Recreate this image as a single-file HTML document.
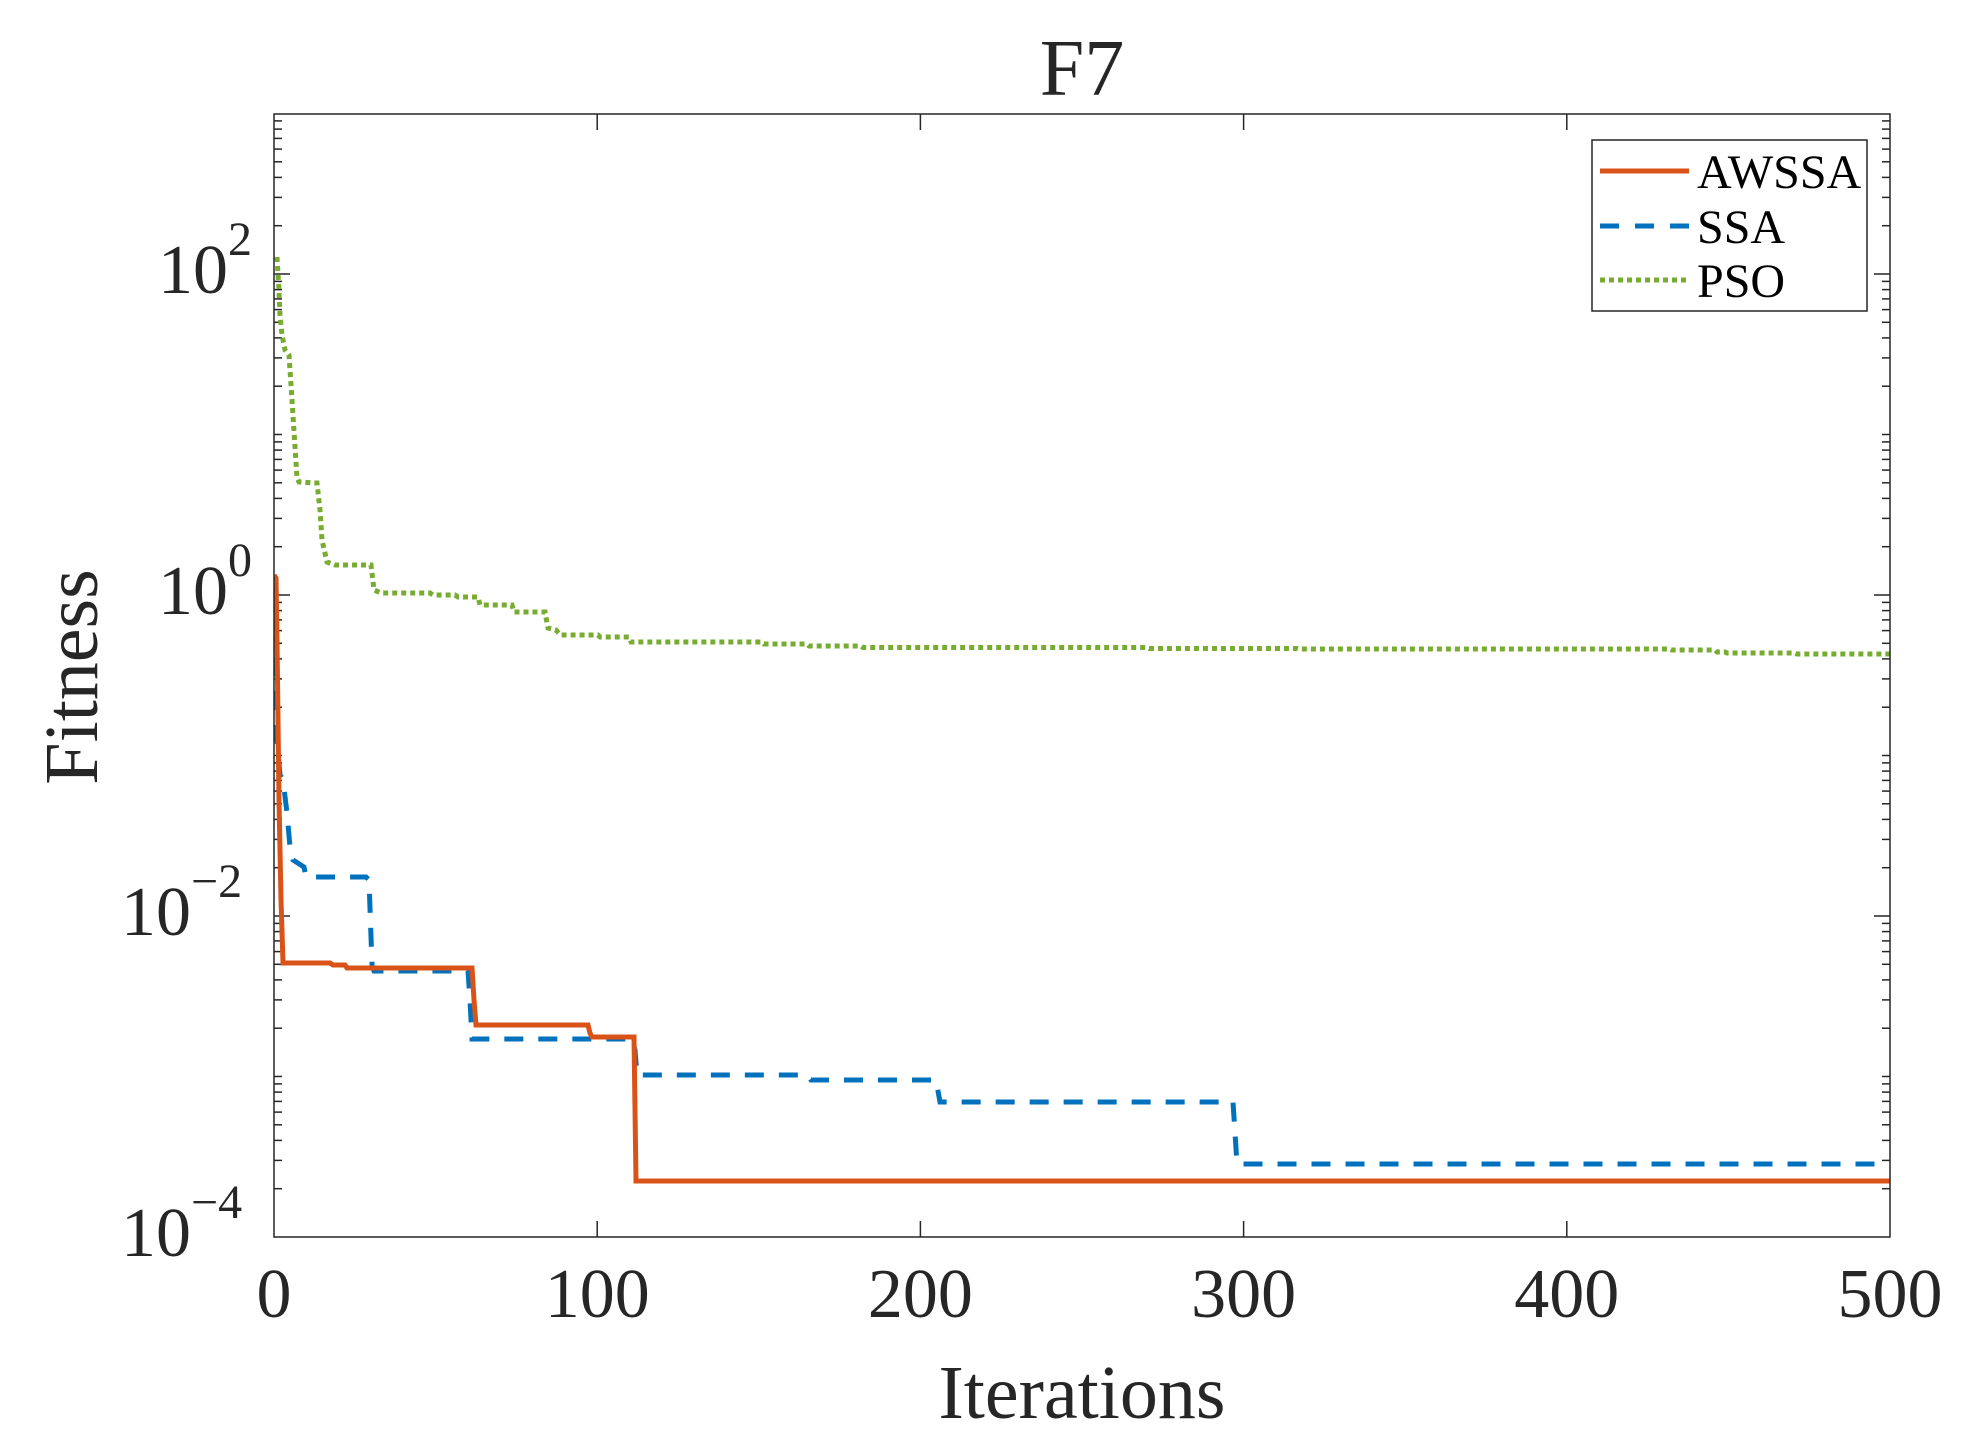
<!DOCTYPE html>
<html><head><meta charset="utf-8"><style>
html,body{margin:0;padding:0;background:#fff;}
svg{display:block;}
text{font-family:"Liberation Serif",serif;fill:#262626;}
</style></head><body>
<svg width="1964" height="1445" viewBox="0 0 1964 1445" xmlns="http://www.w3.org/2000/svg">
<defs>
<clipPath id="c"><rect x="274" y="114" width="1616" height="1123"/></clipPath>
<g id="mL" stroke="#262626" stroke-width="1.5">
<line x1="274" x2="282" y1="-48.3" y2="-48.3"/><line x1="274" x2="282" y1="-76.6" y2="-76.6"/>
<line x1="274" x2="282" y1="-96.6" y2="-96.6"/><line x1="274" x2="282" y1="-112.2" y2="-112.2"/>
<line x1="274" x2="282" y1="-124.9" y2="-124.9"/><line x1="274" x2="282" y1="-135.6" y2="-135.6"/>
<line x1="274" x2="282" y1="-144.9" y2="-144.9"/><line x1="274" x2="282" y1="-153.1" y2="-153.1"/>
<line x1="1882" x2="1890" y1="-48.3" y2="-48.3"/><line x1="1882" x2="1890" y1="-76.6" y2="-76.6"/>
<line x1="1882" x2="1890" y1="-96.6" y2="-96.6"/><line x1="1882" x2="1890" y1="-112.2" y2="-112.2"/>
<line x1="1882" x2="1890" y1="-124.9" y2="-124.9"/><line x1="1882" x2="1890" y1="-135.6" y2="-135.6"/>
<line x1="1882" x2="1890" y1="-144.9" y2="-144.9"/><line x1="1882" x2="1890" y1="-153.1" y2="-153.1"/>
</g>
</defs>
<rect width="1964" height="1445" fill="#fff"/>
<use href="#mL" transform="translate(0,1237)"/>
<use href="#mL" transform="translate(0,1076.5)"/>
<use href="#mL" transform="translate(0,916)"/>
<use href="#mL" transform="translate(0,755.5)"/>
<use href="#mL" transform="translate(0,595)"/>
<use href="#mL" transform="translate(0,434.5)"/>
<use href="#mL" transform="translate(0,274)"/>
<g stroke="#262626" stroke-width="1.5">
<line x1="274" x2="282" y1="1076.5" y2="1076.5"/><line x1="1882" x2="1890" y1="1076.5" y2="1076.5"/>
<line x1="274" x2="282" y1="755.5" y2="755.5"/><line x1="1882" x2="1890" y1="755.5" y2="755.5"/>
<line x1="274" x2="282" y1="434.5" y2="434.5"/><line x1="1882" x2="1890" y1="434.5" y2="434.5"/>
<line x1="274" x2="290" y1="916" y2="916"/><line x1="1874" x2="1890" y1="916" y2="916"/>
<line x1="274" x2="290" y1="595" y2="595"/><line x1="1874" x2="1890" y1="595" y2="595"/>
<line x1="274" x2="290" y1="274" y2="274"/><line x1="1874" x2="1890" y1="274" y2="274"/>
<line x1="597.2" x2="597.2" y1="1237" y2="1221"/><line x1="597.2" x2="597.2" y1="114" y2="130"/>
<line x1="920.4" x2="920.4" y1="1237" y2="1221"/><line x1="920.4" x2="920.4" y1="114" y2="130"/>
<line x1="1243.6" x2="1243.6" y1="1237" y2="1221"/><line x1="1243.6" x2="1243.6" y1="114" y2="130"/>
<line x1="1566.8" x2="1566.8" y1="1237" y2="1221"/><line x1="1566.8" x2="1566.8" y1="114" y2="130"/>
</g>
<g clip-path="url(#c)" fill="none" stroke-width="5">
<polyline stroke="#77AC30" stroke-dasharray="5,4" points="277,257 279,290 280,315 282,335 285,350 289,355 292,400 297,478 299,482 317,483 320,510 322,540 327,562 335,565 371,565 374,590 381,593 430,593 433,595 455,595 458,597 478,597 480,605 512,605 514,612 545,612 548,628 556,630 560,635 598,635 600,637 629,637 631,642 762,642 764,644 807,644 809,646 861,646 863,647.5 1147,647.5 1149,648.5 1297,648.5 1299,649 1670,649 1672,650 1715,650 1717,652 1725,652 1727,653 1795,653 1797,654 1892,654"/>
<polyline stroke="#0072BD" stroke-dasharray="19,15" points="274,589 275,620 276,690 277,740 280,775 283,780 287,813 290,847 293,860 304,867 306,877 366,877 369,880 372,965 374,971 468,971 470,1000 472,1039 632,1039 635,1050 637,1075 808,1075 811,1080 936,1080 940,1102 1233,1102 1237,1164 1892,1164"/>
<polyline stroke="#D95319" points="274,575 276,578 277,640 279,800 281,900 283,963 330,963 333,965 345,965 347,968 472,968 474,1000 476,1025 588,1025 590,1033 592,1037 634,1037 636,1181 1892,1181"/>
</g>
<rect x="274" y="114" width="1616" height="1123" fill="none" stroke="#262626" stroke-width="1.5"/>
<rect x="1592" y="140" width="275" height="171" fill="#fff" stroke="#262626" stroke-width="1.5"/>
<line x1="1600" x2="1689" y1="171" y2="171" stroke="#D95319" stroke-width="5"/>
<line x1="1600" x2="1689" y1="226" y2="226" stroke="#0072BD" stroke-width="5" stroke-dasharray="19,16"/>
<line x1="1600" x2="1689" y1="280" y2="280" stroke="#77AC30" stroke-width="5" stroke-dasharray="5,4"/>
<text x="1697" y="188" font-size="48" style="fill:#000">AWSSA</text>
<text x="1697" y="243" font-size="48" style="fill:#000">SSA</text>
<text x="1697" y="297" font-size="48" style="fill:#000">PSO</text>
<g font-size="70" text-anchor="middle">
<text x="274" y="1317">0</text>
<text x="597.2" y="1317">100</text>
<text x="920.4" y="1317">200</text>
<text x="1243.6" y="1317">300</text>
<text x="1566.8" y="1317">400</text>
<text x="1890" y="1317">500</text>
</g>
<g font-size="70">
<text x="121" y="1256">10<tspan dy="-38" font-size="48">−4</tspan></text>
<text x="121" y="935">10<tspan dy="-38" font-size="48">−2</tspan></text>
<text x="158" y="614">10<tspan dy="-38" font-size="48">0</tspan></text>
<text x="158" y="293">10<tspan dy="-38" font-size="48">2</tspan></text>
</g>
<text x="1082" y="95" font-size="80" text-anchor="middle">F7</text>
<text x="1082" y="1418" font-size="76" text-anchor="middle">Iterations</text>
<text transform="translate(97,677) rotate(-90)" font-size="76" text-anchor="middle">Fitness</text>
</svg>
</body></html>
